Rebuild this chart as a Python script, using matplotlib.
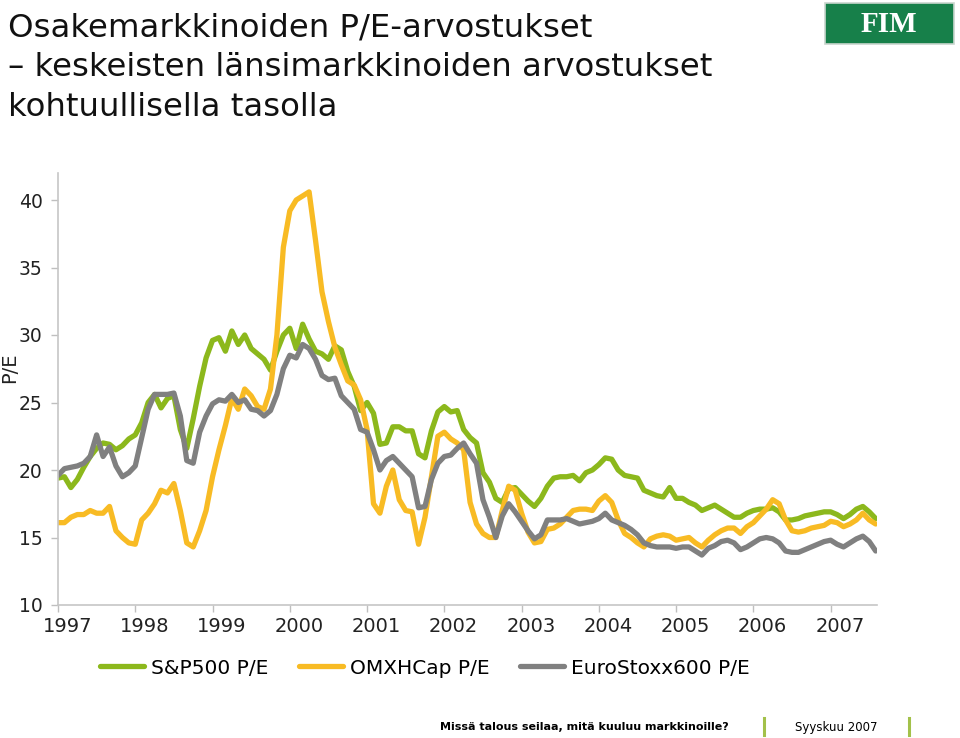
import numpy as np
import pandas as pd
import matplotlib
matplotlib.use("Agg")
import matplotlib.pyplot as plt
from matplotlib.patches import Rectangle
from matplotlib.lines import Line2D

# monthly P/E readings, Jan 1997 - Aug 2007
dates = pd.date_range("1997-01-01", periods=128, freq="MS")

sp500_pe = [
    19.4, 19.5, 18.7, 19.3, 20.2, 21.0, 21.6, 22.0, 21.9, 21.5, 21.8, 22.3,
    22.6, 23.5, 25.0, 25.6, 24.6, 25.3, 25.5, 23.0, 21.6, 23.8, 26.2, 28.3,
    29.6, 29.8, 28.8, 30.3, 29.3, 30.0, 29.0, 28.6, 28.2, 27.4, 28.8, 30.0,
    30.5, 29.0, 30.8, 29.7, 28.8, 28.6, 28.2, 29.2, 28.9, 27.3, 26.2, 24.4,
    25.0, 24.2, 21.9, 22.0, 23.2, 23.2, 22.9, 22.9, 21.2, 20.9, 22.9, 24.3,
    24.7, 24.3, 24.4, 23.0, 22.4, 22.0, 19.8, 19.1, 17.9, 17.6, 18.6, 18.7,
    18.2, 17.7, 17.3, 17.9, 18.8, 19.4, 19.5, 19.5, 19.6, 19.2, 19.8, 20.0,
    20.4, 20.9, 20.8, 20.0, 19.6, 19.5, 19.4, 18.5, 18.3, 18.1, 18.0, 18.7,
    17.9, 17.9, 17.6, 17.4, 17.0, 17.2, 17.4, 17.1, 16.8, 16.5, 16.5, 16.8,
    17.0, 17.1, 17.1, 17.2, 16.9, 16.3, 16.3, 16.4, 16.6, 16.7, 16.8, 16.9,
    16.9, 16.7, 16.4, 16.7, 17.1, 17.3, 16.9, 16.4,
]

omxhcap_pe = [
    16.1, 16.1, 16.5, 16.7, 16.7, 17.0, 16.8, 16.8, 17.3, 15.5, 15.0, 14.6,
    14.5, 16.3, 16.8, 17.5, 18.5, 18.3, 19.0, 17.0, 14.6, 14.3, 15.5, 17.0,
    19.5, 21.5, 23.3, 25.3, 24.5, 26.0, 25.5, 24.7, 24.5, 26.0, 30.0, 36.5,
    39.2, 40.0, 40.3, 40.6, 37.0, 33.2, 31.0, 29.1, 27.8, 26.6, 26.3, 25.2,
    23.0, 17.5, 16.8, 18.8, 20.0, 17.8, 17.0, 16.9, 14.5, 16.5, 19.5, 22.5,
    22.8, 22.3, 22.0, 21.5, 17.6, 16.0, 15.3, 15.0, 15.0, 17.0, 18.8, 18.5,
    16.8, 15.4, 14.6, 14.7, 15.6, 15.7, 16.0, 16.5, 17.0, 17.1, 17.1, 17.0,
    17.7, 18.1, 17.6, 16.3, 15.3, 15.0, 14.6, 14.3, 14.9, 15.1, 15.2, 15.1,
    14.8, 14.9, 15.0, 14.6, 14.3, 14.8, 15.2, 15.5, 15.7, 15.7, 15.3, 15.8,
    16.1, 16.6, 17.1, 17.8, 17.5, 16.3, 15.5, 15.4, 15.5, 15.7, 15.8, 15.9,
    16.2, 16.1, 15.8, 16.0, 16.3, 16.8, 16.3, 16.0,
]

eurostoxx600_pe = [
    19.6, 20.1, 20.2, 20.3, 20.5, 21.0, 22.6, 21.0, 21.7, 20.3, 19.5, 19.8,
    20.3, 22.4, 24.5, 25.6, 25.6, 25.6, 25.7, 24.0, 20.7, 20.5, 22.8, 24.0,
    24.9, 25.2, 25.1, 25.6, 25.0, 25.2, 24.5, 24.4, 24.0, 24.4, 25.6, 27.5,
    28.5, 28.3, 29.3, 29.0, 28.2, 27.0, 26.7, 26.8, 25.5, 25.0, 24.5, 23.0,
    22.8, 21.5, 20.0, 20.7, 21.0, 20.5, 20.0, 19.5, 17.2, 17.3, 19.3, 20.5,
    21.0, 21.1, 21.6, 22.0, 21.2, 20.5, 17.8, 16.5, 15.0, 16.6, 17.5, 16.9,
    16.2, 15.5, 14.9, 15.2, 16.3, 16.3, 16.3, 16.4, 16.2, 16.0, 16.1, 16.2,
    16.4, 16.8, 16.3, 16.1, 15.9, 15.6, 15.2, 14.6, 14.4, 14.3, 14.3, 14.3,
    14.2, 14.3, 14.3, 14.0, 13.7, 14.2, 14.4, 14.7, 14.8, 14.6, 14.1, 14.3,
    14.6, 14.9, 15.0, 14.9, 14.6, 14.0, 13.9, 13.9, 14.1, 14.3, 14.5, 14.7,
    14.8, 14.5, 14.3, 14.6, 14.9, 15.1, 14.7, 14.0,
]

years = list(range(1997, 2008))
series_labels = ["S&P500 P/E", "OMXHCap P/E", "EuroStoxx600 P/E"]
colors = ["#8cb81c", "#f8bb24", "#808080"]

# decimal years for the x axis
t = dates.year + (dates.month - 1) / 12.0

W, H = 960, 738
fig = plt.figure(figsize=(W / 100, H / 100), dpi=100)
ax = fig.add_axes([58 / W, 1 - 605 / H, (877 - 58) / W, (605 - 173) / H])

for vals, col, lab in zip([sp500_pe, omxhcap_pe, eurostoxx600_pe], colors, series_labels):
    ax.plot(t, vals, color=col, lw=3.8, label=lab, solid_joinstyle="round", solid_capstyle="round")

ax.set_xlim(1997.0, 2007.6)
ax.set_ylim(10, 42)
ax.set_yticks([10, 15, 20, 25, 30, 35, 40])

# year ticks at boundaries, labels slightly to the right
ax.set_xticks(years)
ax.set_xticklabels([])
ax.set_xticks([y + 0.12 for y in years], minor=True)
ax.set_xticklabels([str(y) for y in years], minor=True)
ax.tick_params(axis="x", which="minor", length=0, pad=9, labelsize=14, labelcolor="#222222")
ax.tick_params(axis="x", which="major", length=5, color="#bfbfbf", width=1)
ax.tick_params(axis="y", length=5, color="#bfbfbf", width=1, labelsize=13.5, pad=6,
               labelcolor="#222222")

for s in ["top", "right"]:
    ax.spines[s].set_visible(False)
for s in ["left", "bottom"]:
    ax.spines[s].set_color("#c6c6c6")
    ax.spines[s].set_linewidth(1.2)

fig.text(10 / W, 1 - 368 / H, "P/E", rotation=90, ha="center", va="center", fontsize=14,
         color="#222222")

# legend under the plot
fig.legend(loc="center", bbox_to_anchor=(425 / W, 1 - 668 / H), ncol=3, frameon=False,
           fontsize=14.5, handlelength=2.2, handletextpad=0.35, columnspacing=1.5)

# title
title_lines = ["Osakemarkkinoiden P/E-arvostukset",
               "\u2013 keskeisten länsimarkkinoiden arvostukset",
               "kohtuullisella tasolla"]
for i, line in enumerate(title_lines):
    fig.text(8 / W, 1 - (37 + 39.5 * i) / H, line, fontsize=23.3, va="baseline", ha="left",
             color="#111111")

# logo box
fig.patches.append(Rectangle((825 / W, 1 - 44 / H), 129 / W, 41 / H, transform=fig.transFigure,
                             facecolor="#17804a", edgecolor="#c9d6ce", lw=1.2))
fig.text(889 / W, 1 - 24 / H, "FIM", color="white", fontsize=21, fontweight="bold",
         family="Liberation Serif", ha="center", va="center")

# footer
fig.text(440 / W, 1 - 727 / H, "Missä talous seilaa, mitä kuuluu markkinoille?",
         fontsize=8, fontweight="bold", ha="left", va="center")
fig.text(795 / W, 1 - 727 / H, "Syyskuu 2007", fontsize=8.5, ha="left", va="center")
for bx in [764, 909]:
    fig.lines.append(Line2D([bx / W, bx / W], [1 - 735 / H, 1 - 718 / H], transform=fig.transFigure,
                            color="#a3c14a", lw=2.2))

fig.savefig("out.png", dpi=100)
